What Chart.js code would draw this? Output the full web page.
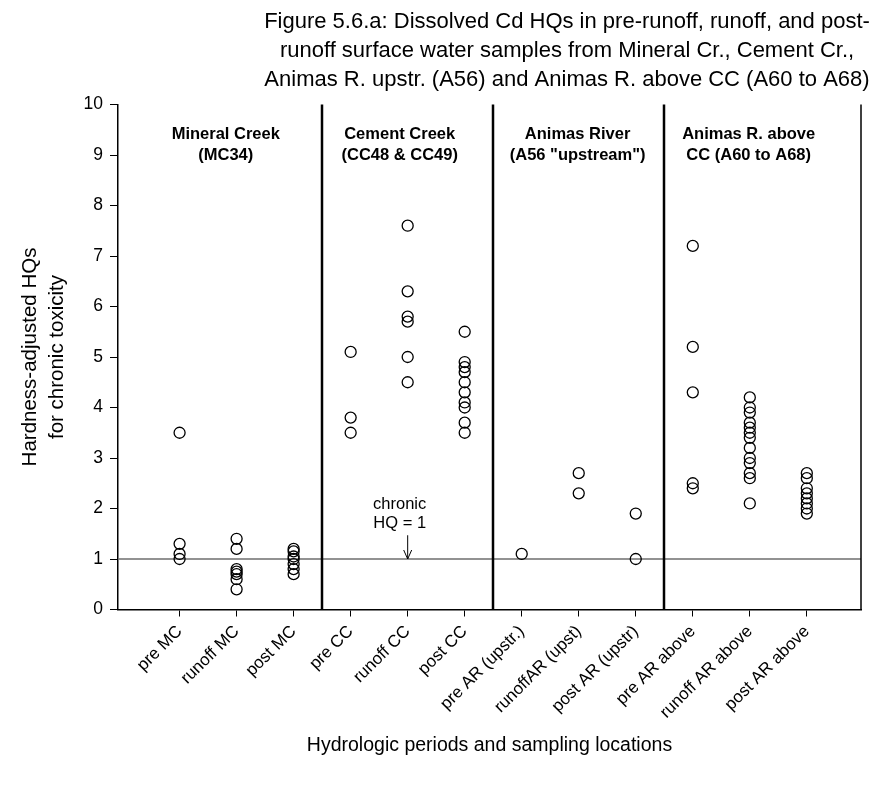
<!DOCTYPE html>
<html>
<head>
<meta charset="utf-8">
<script src="https://cdn.jsdelivr.net/npm/chart.js@4/dist/chart.umd.min.js"></script>
<style>
  html, body { margin: 0; padding: 0; background: #fff; }
  #wrap { width: 891px; height: 788px; }
</style>
</head>
<body>
<div id="wrap"><canvas id="c" width="891" height="788"></canvas></div>
<script>
// Hydrologic period / location categories along the x axis
const categories = [
  'pre MC', 'runoff MC', 'post MC',
  'pre CC', 'runoff CC', 'post CC',
  'pre AR (upstr.)', 'runoffAR (upst)', 'post AR (upstr)',
  'pre AR above', 'runoff AR above', 'post AR above'
];

// Hardness-adjusted chronic HQs for dissolved Cd, one list per category
const preMC        = [3.5, 1.3, 1.1, 1.0];
const runoffMC     = [1.4, 1.2, 0.8, 0.75, 0.7, 0.6, 0.4];
const postMC       = [1.2, 1.15, 1.05, 1.0, 0.9, 0.8, 0.7];
const preCC        = [5.1, 3.8, 3.5];
const runoffCC     = [7.6, 6.3, 5.8, 5.7, 5.0, 4.5];
const postCC       = [5.5, 4.9, 4.8, 4.7, 4.5, 4.3, 4.1, 4.0, 3.7, 3.5];
const preARup      = [1.1];
const runoffARup   = [2.7, 2.3];
const postARup     = [1.9, 1.0];
const preARabove   = [7.2, 5.2, 4.3, 2.5, 2.4];
const runoffARabove= [4.2, 4.0, 3.9, 3.7, 3.6, 3.5, 3.4, 3.2, 3.0, 2.9, 2.7, 2.6, 2.1];
const postARabove  = [2.7, 2.6, 2.4, 2.3, 2.2, 2.1, 2.0, 1.9];

const seriesByCategory = [
  preMC, runoffMC, postMC,
  preCC, runoffCC, postCC,
  preARup, runoffARup, postARup,
  preARabove, runoffARabove, postARabove
];

// Y-axis tick values
const yTicks = [0, 1, 2, 3, 4, 5, 6, 7, 8, 9, 10];

// Chronic HQ threshold
const chronicHQ = 1;

// Group boundaries (between category indices) and group headings
const groupBounds = [2.5, 5.5, 8.5];
const groupTitles = [
  ['Mineral Creek', '(MC34)'],
  ['Cement Creek', '(CC48 & CC49)'],
  ['Animas River', '(A56 "upstream")'],
  ['Animas R. above', 'CC (A60 to A68)']
];
const groupTitleX = [0.81, 3.86, 6.98, 9.98];

const titleLines = [
  'Figure 5.6.a: Dissolved Cd HQs in pre-runoff, runoff, and post-',
  'runoff surface water samples from Mineral Cr., Cement Cr.,',
  'Animas R. upstr. (A56) and Animas R. above CC (A60 to A68)'
];
const yTitleLines = ['Hardness-adjusted HQs', 'for chronic toxicity'];
const xTitle = 'Hydrologic periods and sampling locations';

const FONT = '"Liberation Sans", Arial, Helvetica, sans-serif';

const points = [];
seriesByCategory.forEach((vals, i) => vals.forEach(v => points.push({ x: i, y: v })));

const decorations = {
  id: 'decorations',
  beforeDatasetsDraw(chart) {
    const { ctx, chartArea: a, scales: { x, y } } = chart;
    ctx.save();
    // threshold line
    const yT = y.getPixelForValue(chronicHQ);
    ctx.strokeStyle = '#6e6e6e';
    ctx.lineWidth = 1.5;
    ctx.beginPath();
    ctx.moveTo(a.left, yT);
    ctx.lineTo(a.right, yT);
    ctx.stroke();
    // group separators
    ctx.strokeStyle = '#000';
    ctx.lineWidth = 2.5;
    groupBounds.forEach(b => {
      const px = Math.round(x.getPixelForValue(b));
      ctx.beginPath();
      ctx.moveTo(px, a.top);
      ctx.lineTo(px, a.bottom);
      ctx.stroke();
    });
    // right frame
    ctx.lineWidth = 1.5;
    ctx.beginPath();
    ctx.moveTo(a.right, a.top);
    ctx.lineTo(a.right, a.bottom);
    ctx.stroke();
    ctx.restore();
  },
  afterDraw(chart) {
    const { ctx, chartArea: a, scales: { x, y } } = chart;
    ctx.save();
    ctx.fillStyle = '#000';
    ctx.textBaseline = 'middle';
    ctx.textAlign = 'center';

    // title
    ctx.font = '22px ' + FONT;
    titleLines.forEach((t, i) => ctx.fillText(t, 567, 22 + i * 29));

    // group headings
    ctx.font = 'bold 16.5px ' + FONT;
    groupTitles.forEach((lines, i) => {
      const px = x.getPixelForValue(groupTitleX[i]);
      lines.forEach((t, j) => ctx.fillText(t, px, y.getPixelForValue(9.4) + j * 21));
    });

    // threshold annotation
    const tx = x.getPixelForValue(3.86);
    const ax = x.getPixelForValue(4);
    ctx.font = '16.5px ' + FONT;
    ctx.fillText('chronic', tx, y.getPixelForValue(2.08));
    ctx.fillText('HQ = 1', tx, y.getPixelForValue(1.7));
    const y0 = y.getPixelForValue(1.47), y1 = y.getPixelForValue(chronicHQ);
    ctx.strokeStyle = '#000';
    ctx.lineWidth = 1;
    ctx.beginPath();
    ctx.moveTo(ax, y0);
    ctx.lineTo(ax, y1);
    ctx.moveTo(ax - 4, y1 - 9);
    ctx.lineTo(ax, y1);
    ctx.lineTo(ax + 4, y1 - 9);
    ctx.stroke();

    // y axis title (two rotated lines)
    ctx.font = '20.5px ' + FONT;
    ctx.translate(0, (a.top + a.bottom) / 2);
    ctx.rotate(-Math.PI / 2);
    ctx.fillText(yTitleLines[0], 0, 30);
    ctx.fillText(yTitleLines[1], 0, 57);
    ctx.setTransform(1, 0, 0, 1, 0, 0);

    // x axis title
    ctx.font = '19.5px ' + FONT;
    ctx.fillText(xTitle, (a.left + a.right) / 2, 746);
    ctx.restore();
  }
};

new Chart(document.getElementById('c'), {
  type: 'scatter',
  data: {
    datasets: [{
      data: points,
      pointStyle: 'circle',
      pointRadius: 5.5,
      pointHoverRadius: 5.5,
      pointBackgroundColor: 'rgba(255,255,255,0)',
      pointBorderColor: '#000',
      pointBorderWidth: 1.3
    }]
  },
  options: {
    responsive: false,
    animation: false,
    events: [],
    layout: { padding: { left: 0, right: 30, top: 104.5, bottom: 0 } },
    plugins: { legend: { display: false }, tooltip: { enabled: false }, title: { display: false } },
    scales: {
      x: {
        type: 'linear',
        min: -1.08,
        max: 11.95,
        afterBuildTicks(s) { s.ticks = categories.map((_, i) => ({ value: i })); },
        afterFit(s) { s.height = 788 - 609.5; },
        border: { display: true, color: '#000', width: 1.5 },
        grid: { display: true, drawOnChartArea: false, drawTicks: true, tickLength: 7, color: '#000', lineWidth: 1 },
        ticks: {
          autoSkip: false,
          minRotation: 45,
          maxRotation: 45,
          padding: 5,
          color: '#000',
          font: { family: FONT, size: 17 },
          callback: v => categories[v] ?? ''
        }
      },
      y: {
        min: 0,
        max: 10,
        afterBuildTicks(s) { s.ticks = yTicks.map(v => ({ value: v })); },
        afterFit(s) { s.width = 118; },
        border: { display: true, color: '#000', width: 1.5 },
        grid: { display: true, drawOnChartArea: false, drawTicks: true, tickLength: 8, color: '#000', lineWidth: 1 },
        ticks: {
          padding: 7,
          color: '#000',
          font: { family: FONT, size: 17.5 }
        }
      }
    }
  },
  plugins: [decorations]
});
</script>
</body>
</html>
